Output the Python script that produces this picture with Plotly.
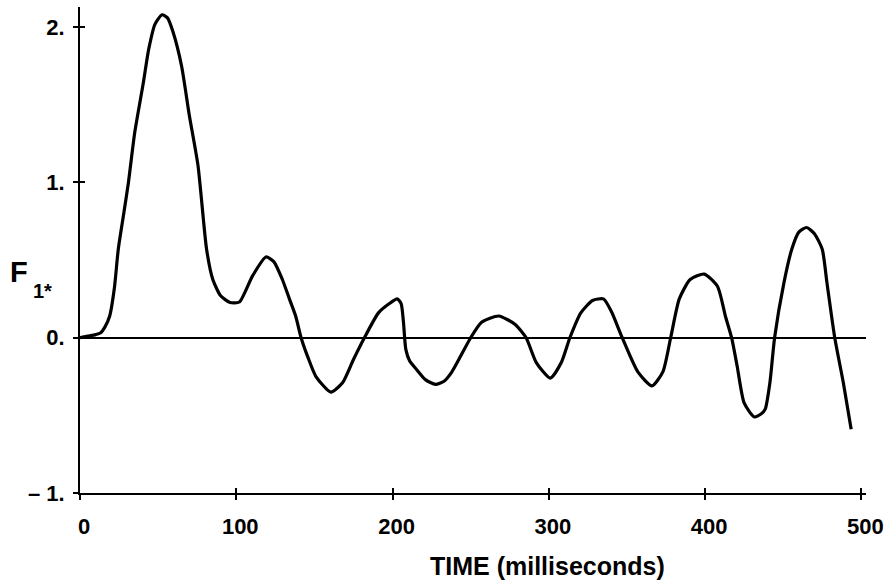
import plotly.graph_objects as go

# Data
time_ms = [0, 5, 10, 13, 16, 19, 22, 24.5, 28, 31, 35, 40.5, 44, 48, 52.5, 56, 59.5, 65, 70, 75.5, 81,
           85, 90, 96, 102, 110.5, 119, 124, 129.5, 134, 138, 141.5, 146, 151, 160.5, 168, 175, 182, 191,
           198, 203, 205.5, 207, 208.5, 211, 215, 221, 227.5, 233, 238, 250, 257, 268, 278.5, 285.5, 292,
           301, 308, 313.5, 320.5, 328, 335, 340, 347, 357, 366, 373, 378, 383.5, 390.5, 399.5, 408, 413,
           417, 420.5, 425, 431.5, 436, 438.5, 441.5, 444.5, 450.5, 455.5, 460, 465, 470, 475, 478, 483,
           488.5, 493.5]
f1_values = [0.0, 0.01, 0.02, 0.03, 0.07, 0.14, 0.32, 0.57, 0.80, 1.00, 1.32, 1.64, 1.86, 2.02, 2.08, 2.06, 1.97, 1.75, 1.43, 1.11, 0.57,
             0.375, 0.27, 0.227, 0.23, 0.40, 0.52, 0.49, 0.375, 0.25, 0.14, 0.0, -0.13, -0.25, -0.35, -0.29, -0.14, 0.0, 0.16,
             0.22, 0.25, 0.22, 0.10, -0.075, -0.15, -0.20, -0.27, -0.30, -0.28, -0.22, 0.0, 0.10, 0.14, 0.085, 0.0, -0.16,
             -0.26, -0.16, 0.0, 0.16, 0.24, 0.25, 0.17, 0.0, -0.22, -0.31, -0.22, 0.0, 0.25, 0.375, 0.41, 0.33, 0.14,
             0.0, -0.18, -0.42, -0.51, -0.49, -0.46, -0.29, 0.0, 0.355, 0.57, 0.68, 0.71, 0.67, 0.57, 0.355, 0.0,
             -0.29, -0.59]

x_tick_vals = [0, 100, 200, 300, 400, 500]
x_tick_text = ["0", "100", "200", "300", "400", "500"]
y_tick_vals = [-1, 0, 1, 2]
y_tick_text = ["\u2013 1.", "0.", "1.", "2."]

FONT = "Liberation Sans"

fig = go.Figure()
fig.add_trace(go.Scatter(x=time_ms, y=f1_values, mode="lines",
                         line=dict(color="black", width=3.2, shape="spline", smoothing=0.6),
                         hoverinfo="skip", showlegend=False))

fig.update_layout(
    width=891, height=584,
    margin=dict(l=80, r=21, t=7, b=91),
    paper_bgcolor="white", plot_bgcolor="white",
    showlegend=False,
    xaxis=dict(range=[0, 503], showgrid=False, zeroline=False,
               showline=True, linecolor="black", linewidth=2,
               tickmode="array", tickvals=x_tick_vals, ticktext=x_tick_text,
               ticks="outside", ticklen=5, tickwidth=2, tickcolor="black",
               ticklabelstandoff=8, ticklabelshift=4,
               tickfont=dict(family=FONT, size=22, color="black", weight="bold")),
    yaxis=dict(range=[-1, 2.13], showgrid=False,
               zeroline=True, zerolinecolor="black", zerolinewidth=1.6,
               showline=True, linecolor="black", linewidth=2,
               tickmode="array", tickvals=y_tick_vals, ticktext=y_tick_text,
               ticks="outside", ticklen=5, tickwidth=2, tickcolor="black",
               ticklabelstandoff=4,
               tickfont=dict(family=FONT, size=22, color="black", weight="bold")),
    xaxis2=dict(range=[0, 503], overlaying="x", showgrid=False, zeroline=False,
                showline=False, tickmode="array", tickvals=x_tick_vals,
                ticks="inside", ticklen=5, tickwidth=2, tickcolor="black",
                showticklabels=False, side="bottom"),
    yaxis2=dict(range=[-1, 2.13], overlaying="y", showgrid=False, zeroline=False,
                showline=False, tickmode="array", tickvals=y_tick_vals,
                ticks="inside", ticklen=5, tickwidth=2, tickcolor="black",
                showticklabels=False, side="left"),
)

# invisible trace to activate the secondary axes (inside tick halves)
fig.add_trace(go.Scatter(x=[None], y=[None], xaxis="x2", yaxis="y2",
                         mode="lines", hoverinfo="skip", showlegend=False))

fig.add_annotation(text="F", xref="paper", yref="paper",
                   x=-0.0772, y=0.4547, xanchor="center", yanchor="middle",
                   showarrow=False,
                   font=dict(family=FONT, size=29, color="black", weight="bold"))
fig.add_annotation(text="1*", xref="paper", yref="paper",
                   x=-0.0481, y=0.4156, xanchor="center", yanchor="middle",
                   showarrow=False,
                   font=dict(family=FONT, size=20, color="black", weight="bold"))

fig.add_annotation(text="TIME (milliseconds)", xref="paper", yref="paper",
                   x=0.595, y=-0.150, xanchor="center", yanchor="middle",
                   showarrow=False,
                   font=dict(family=FONT, size=25, color="black", weight="bold"))

fig.write_html("out.html", config={"displayModeBar": False},
               post_script="document.body.style.margin='0';document.body.style.overflow='hidden';")
